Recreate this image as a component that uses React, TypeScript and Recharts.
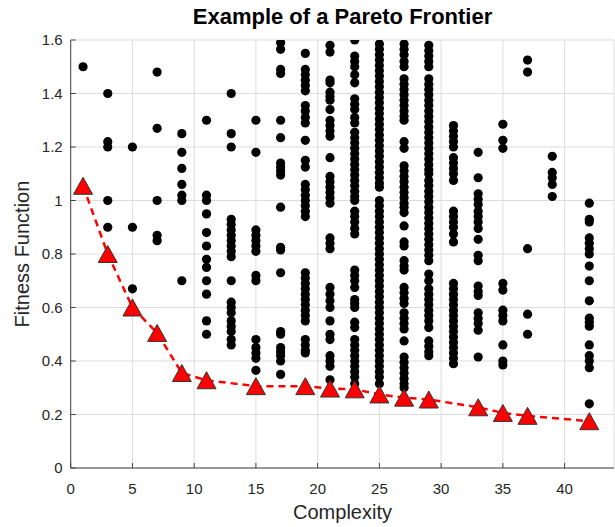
import React from "react";
import { ScatterChart, Scatter, XAxis, YAxis, CartesianGrid } from "recharts";

// complexity of each column of candidate solutions
const complexity = [1, 3, 5, 7, 9, 11, 13, 15, 17, 19, 21, 23, 25, 27, 29, 31, 33, 35, 37, 39, 42];

const c1 = [1.5];
const c3 = [1.4, 1.22, 1.2, 1.0, 0.9];
const c5 = [1.2, 0.9, 0.67];
const c7 = [1.48, 1.27, 1.0, 0.87, 0.85];
const c9 = [1.25, 1.18, 1.12, 1.06, 1.02, 1.0, 0.7];
const c11 = [1.3, 1.02, 1.0, 0.95, 0.88, 0.83, 0.78, 0.75, 0.7, 0.65, 0.55, 0.5];
const c13 = [1.4, 1.25, 1.2, 0.93, 0.91, 0.89, 0.87, 0.85, 0.83, 0.81, 0.79, 0.7, 0.62, 0.6, 0.58, 0.55, 0.53, 0.51, 0.48, 0.46];
const c15 = [1.3, 1.18, 0.89, 0.87, 0.85, 0.83, 0.81, 0.72, 0.7, 0.48, 0.45, 0.43, 0.41, 0.365];
const c17 = [1.59, 1.565, 1.49, 1.475, 1.3, 1.235, 1.14, 1.125, 1.11, 1.095, 0.975, 0.825, 0.815, 0.73, 0.51, 0.5, 0.45, 0.435, 0.42, 0.4, 0.35];
const c19 = [1.55, 1.49, 1.47, 1.45, 1.43, 1.41, 1.355, 1.335, 1.31, 1.29, 1.225, 1.15, 1.125, 1.06, 1.04, 1.02, 1.0, 0.98, 0.96, 0.94, 0.73, 0.71, 0.69, 0.67, 0.65, 0.63, 0.61, 0.59, 0.57, 0.55, 0.48, 0.46, 0.44, 0.43];
const c21 = [1.58, 1.555, 1.45, 1.44, 1.405, 1.39, 1.375, 1.34, 1.3, 1.28, 1.26, 1.24, 1.16, 1.09, 1.07, 1.05, 1.03, 1.01, 0.99, 0.86, 0.84, 0.82, 0.675, 0.65, 0.625, 0.6, 0.55, 0.5, 0.48, 0.42, 0.4, 0.38, 0.33];
const c23 = [1.6, 1.54, 1.52, 1.5, 1.47, 1.44, 1.38, 1.36, 1.34, 1.31, 1.29, 1.255, 1.235, 1.215, 1.195, 1.175, 1.155, 1.135, 1.115, 1.095, 1.075, 1.055, 1.035, 1.015, 1.0, 0.96, 0.94, 0.92, 0.895, 0.875, 0.74, 0.72, 0.7, 0.675, 0.63, 0.615, 0.6, 0.545, 0.525, 0.48, 0.46, 0.44, 0.42, 0.4, 0.38, 0.36, 0.34, 0.315];
const c25 = [1.585, 1.565, 1.545, 1.525, 1.505, 1.485, 1.465, 1.445, 1.425, 1.405, 1.385, 1.365, 1.345, 1.325, 1.305, 1.285, 1.265, 1.245, 1.225, 1.205, 1.185, 1.165, 1.145, 1.125, 1.105, 1.085, 1.065, 1.05, 1.0, 0.98, 0.96, 0.94, 0.92, 0.9, 0.88, 0.86, 0.84, 0.82, 0.8, 0.78, 0.76, 0.74, 0.72, 0.7, 0.68, 0.66, 0.64, 0.62, 0.6, 0.58, 0.56, 0.54, 0.52, 0.5, 0.48, 0.46, 0.44, 0.42, 0.4, 0.38, 0.36, 0.34, 0.315];
const c27 = [1.585, 1.565, 1.545, 1.52, 1.5, 1.455, 1.435, 1.415, 1.395, 1.375, 1.355, 1.335, 1.315, 1.3, 1.22, 1.195, 1.13, 1.11, 1.09, 1.07, 1.05, 1.03, 1.01, 0.99, 0.975, 0.955, 0.905, 0.845, 0.83, 0.775, 0.755, 0.74, 0.675, 0.655, 0.635, 0.615, 0.58, 0.56, 0.54, 0.52, 0.475, 0.415, 0.395, 0.375, 0.355, 0.335, 0.315, 0.3];
const c29 = [1.58, 1.56, 1.54, 1.52, 1.5, 1.455, 1.435, 1.415, 1.395, 1.375, 1.355, 1.335, 1.315, 1.295, 1.275, 1.255, 1.235, 1.215, 1.195, 1.175, 1.155, 1.135, 1.115, 1.1, 1.075, 1.055, 1.035, 1.015, 0.995, 0.975, 0.955, 0.935, 0.915, 0.895, 0.875, 0.855, 0.835, 0.815, 0.795, 0.775, 0.725, 0.7, 0.67, 0.65, 0.63, 0.61, 0.59, 0.57, 0.55, 0.525, 0.475, 0.455, 0.435, 0.42];
const c31 = [1.28, 1.26, 1.24, 1.22, 1.2, 1.16, 1.14, 1.12, 1.1, 1.075, 0.96, 0.94, 0.92, 0.9, 0.875, 0.845, 0.69, 0.67, 0.65, 0.63, 0.61, 0.59, 0.57, 0.55, 0.53, 0.51, 0.49, 0.47, 0.45, 0.43, 0.41, 0.39];
const c33 = [1.18, 1.085, 1.025, 1.005, 0.985, 0.96, 0.94, 0.92, 0.895, 0.855, 0.795, 0.775, 0.68, 0.66, 0.645, 0.58, 0.56, 0.54, 0.515, 0.415];
const c35 = [1.285, 1.225, 1.195, 0.69, 0.665, 0.59, 0.57, 0.55, 0.46, 0.4, 0.385];
const c37 = [1.525, 1.48, 0.82, 0.575, 0.5];
const c39 = [1.165, 1.105, 1.085, 1.06, 1.015];
const c42 = [0.99, 0.93, 0.92, 0.86, 0.84, 0.82, 0.8, 0.755, 0.7, 0.625, 0.56, 0.545, 0.53, 0.46, 0.42, 0.4, 0.375, 0.24];

const fitness = [c1, c3, c5, c7, c9, c11, c13, c15, c17, c19, c21, c23, c25, c27, c29, c31, c33, c35, c37, c39, c42];

// pareto frontier
const paretoX = [1, 3, 5, 7, 9, 11, 15, 19, 21, 23, 25, 27, 29, 33, 35, 37, 42];
const paretoY = [1.055, 0.8, 0.6, 0.505, 0.355, 0.328, 0.306, 0.306, 0.297, 0.294, 0.275, 0.263, 0.256, 0.227, 0.206, 0.195, 0.175];

const xTicks = [0, 5, 10, 15, 20, 25, 30, 35, 40];
const yTicks = [0, 0.2, 0.4, 0.6, 0.8, 1, 1.2, 1.4, 1.6];

const points = fitness.flatMap((ys, i) => ys.map((y) => ({ x: complexity[i], y })));
const pareto = paretoX.map((x, i) => ({ x, y: paretoY[i] }));

const FONT = "'Liberation Sans', Arial, Helvetica, sans-serif";
const AXIS = "#444";
const TEXT = "#262626";

const Dot = (p: any) => <circle cx={p.cx} cy={p.cy} r={4.6} fill="#000" />;

const Tri = (p: any) => {
  const { cx, cy } = p;
  const w = 9.5;
  const h = 8.5;
  return (
    <polygon
      points={`${cx},${cy - h} ${cx - w},${cy + h} ${cx + w},${cy + h}`}
      fill="#ff0000"
      stroke="#333"
      strokeWidth={1}
    />
  );
};

export default function App() {
  const tick = { fill: TEXT, fontSize: 15, fontFamily: FONT };
  return (
    <div style={{ position: "absolute", left: 0, top: 0, width: 615, height: 527, background: "#fff", fontFamily: FONT }}>
      <div
        style={{
          position: "absolute",
          left: 71,
          width: 543,
          top: 4,
          textAlign: "center",
          fontSize: 22,
          fontWeight: "bold",
          color: "#000",
          lineHeight: "26px",
        }}
      >
        Example of a Pareto Frontier
      </div>
      <ScatterChart width={615} height={527} margin={{ top: 40, right: 1, bottom: 0, left: 0 }}>
        <CartesianGrid stroke="#dcdcdc" strokeWidth={1} />
        <XAxis
          type="number"
          dataKey="x"
          domain={[0, 44]}
          ticks={xTicks}
          height={59}
          tick={tick}
          tickSize={-5}
          tickMargin={20}
          axisLine={{ stroke: AXIS }}
          tickLine={{ stroke: AXIS }}
          allowDataOverflow
        />
        <XAxis
          xAxisId="top"
          orientation="top"
          type="number"
          domain={[0, 44]}
          ticks={xTicks}
          height={0}
          tick={false}
          tickSize={-5}
          axisLine={{ stroke: AXIS }}
          tickLine={{ stroke: AXIS }}
          allowDataOverflow
        />
        <YAxis
          type="number"
          dataKey="y"
          domain={[0, 1.6]}
          ticks={yTicks}
          width={70.7}
          tick={tick}
          tickSize={-5}
          tickMargin={13}
          axisLine={{ stroke: AXIS }}
          tickLine={{ stroke: AXIS }}
          allowDataOverflow
        />
        <YAxis
          yAxisId="right"
          orientation="right"
          type="number"
          domain={[0, 1.6]}
          ticks={yTicks}
          width={0}
          tick={false}
          tickSize={-5}
          axisLine={{ stroke: AXIS }}
          tickLine={{ stroke: AXIS }}
          allowDataOverflow
        />
        <Scatter data={points} shape={Dot} isAnimationActive={false} />
        <Scatter
          data={pareto}
          shape={Tri}
          line={{ stroke: "#ff0000", strokeWidth: 2.5, strokeDasharray: "7 5" }}
          lineType="joint"
          isAnimationActive={false}
        />
      </ScatterChart>
      <div
        style={{
          position: "absolute",
          left: 71,
          width: 543,
          top: 500,
          textAlign: "center",
          fontSize: 20,
          color: TEXT,
          lineHeight: "24px",
        }}
      >
        Complexity
      </div>
      <div
        style={{
          position: "absolute",
          left: 22 - 150,
          top: 254 - 12,
          width: 300,
          height: 24,
          lineHeight: "24px",
          textAlign: "center",
          fontSize: 20,
          color: TEXT,
          transform: "rotate(-90deg)",
        }}
      >
        Fitness Function
      </div>
    </div>
  );
}
